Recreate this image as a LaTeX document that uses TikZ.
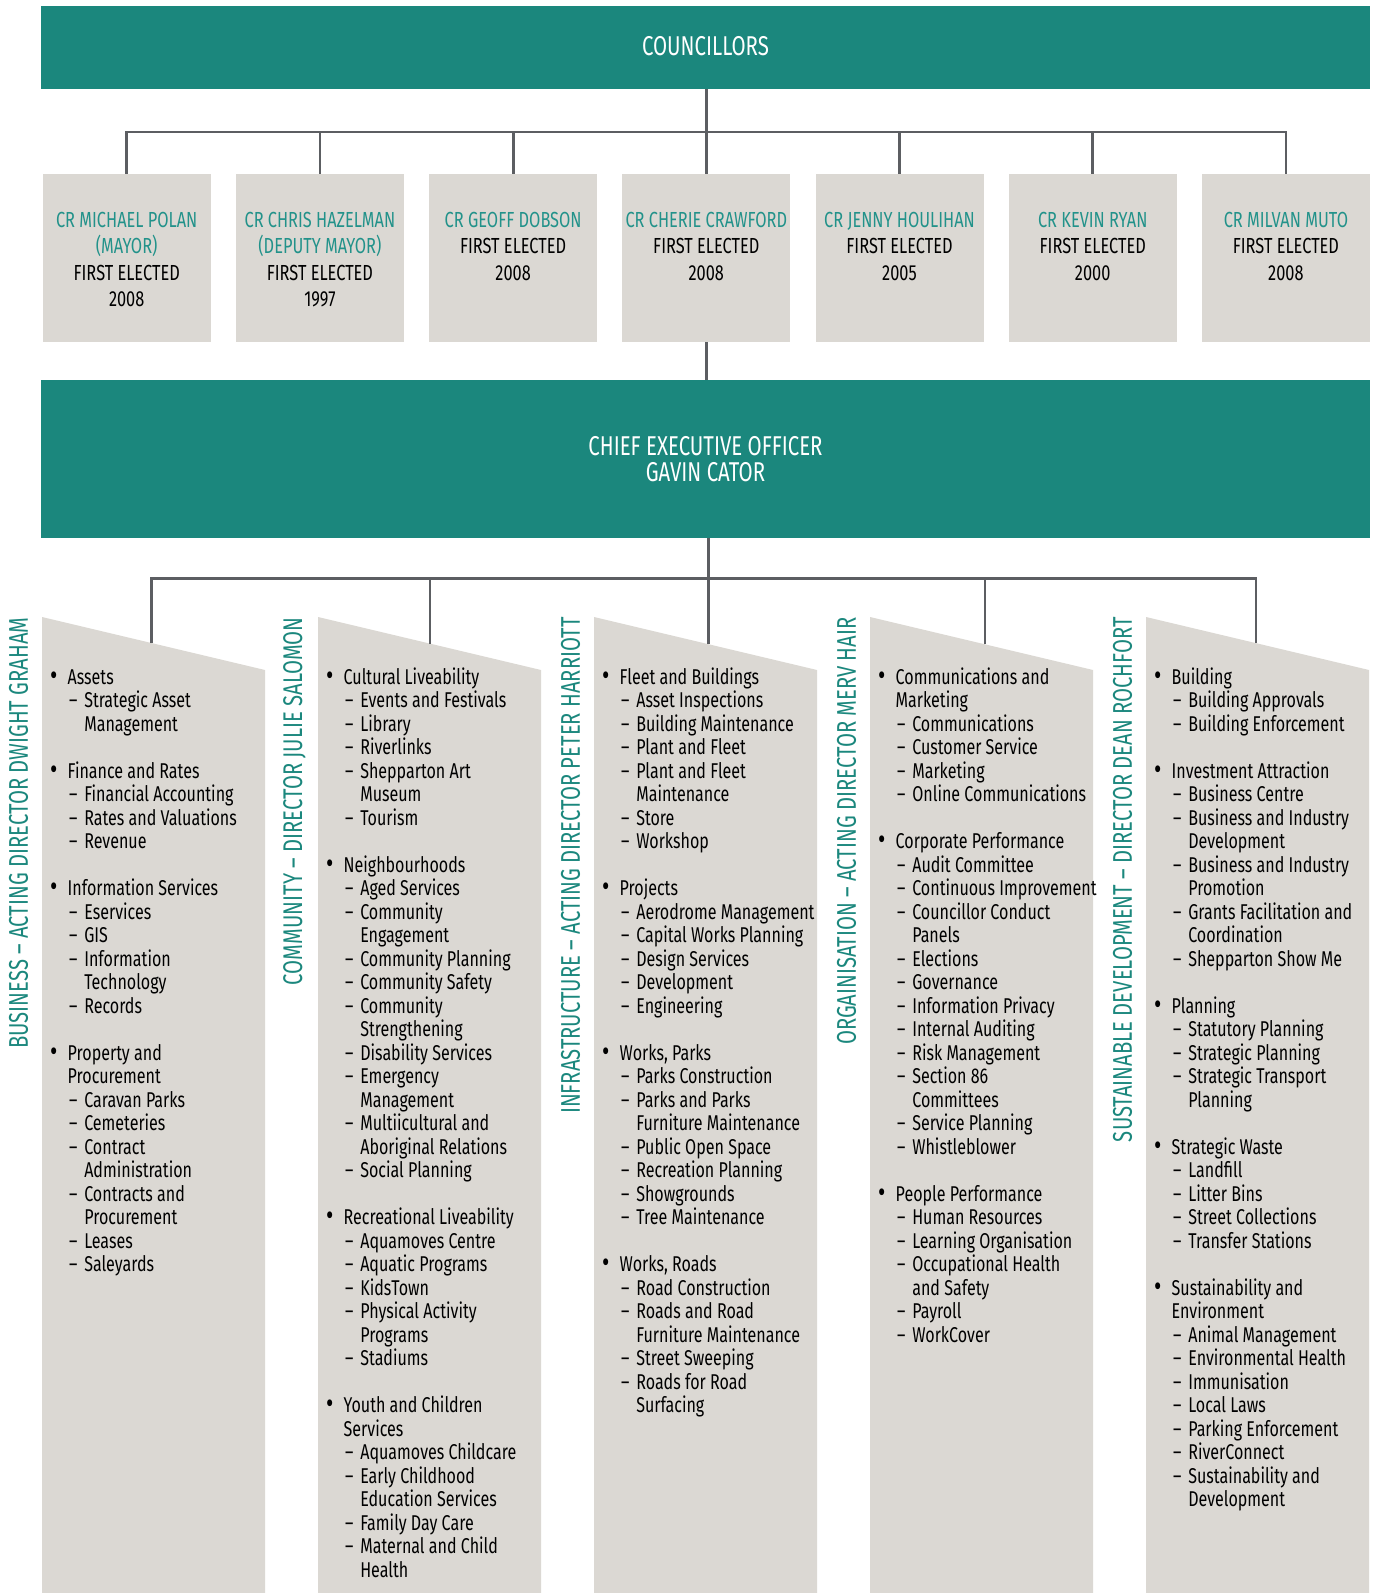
\documentclass[tikz,border=0pt]{standalone}
\usepackage{fontspec}
\setmainfont[FakeStretch=0.75]{Fira Sans}
\usetikzlibrary{positioning,calc}

\definecolor{cteal}{HTML}{1B877D}
\definecolor{nteal}{HTML}{22928A}
\definecolor{panelgrey}{HTML}{DBD8D3}
\definecolor{linegrey}{HTML}{5C5E62}

\newcommand{\itm}[1]{{\noindent\llap{\makebox[8.8pt][l]{\fontsize{15}{0}\selectfont\raisebox{-0.7pt}{\textbullet}}}#1\par}}
\newcommand{\sbi}[1]{{\leftskip=8.3pt\noindent\llap{\makebox[7.6pt][l]{–}}#1\par}}
\newcommand{\gap}{\mbox{}\par}
\newcommand{\coltext}[1]{\parbox[t]{160pt}{\raggedright\fontsize{10.7}{11.75}\selectfont#1}}
\newcommand{\crtxt}[2]{\parbox[t]{95pt}{\centering\fontsize{10.9}{13.15}\selectfont\textcolor{nteal}{#1}\\#2}}

\begin{document}
\begin{tikzpicture}[x=0.5pt, y=-0.5pt,
		band/.style={fill=cteal, inner sep=0pt, minimum width=664.5pt, minimum height=#1},
		crbox/.style={fill=panelgrey, inner sep=0pt, minimum width=84pt, minimum height=84pt},
		panel/.style={fill=panelgrey},
		conn/.style={draw=linegrey, line width=1.4pt},
		title/.style={rotate=90, anchor=east, inner sep=0pt, text=cteal, font=\fontsize{13.5}{15}\selectfont},
		head/.style={anchor=base, inner sep=0pt, text=white, align=center, font=\fontsize{13.6}{12.85}\selectfont}]
	\useasboundingbox (0,0) rectangle (1376,1593);

	% councillors
	\node[band=41.5pt] (council) at (705.5,47.5) {};
	\node[head] at ($(council.north)+(0,50)$) {COUNCILLORS};

	\node[crbox] (cr1) at (126.7,258) {};
	\node[crbox] (cr2) at (319.9,258) {};
	\node[crbox] (cr3) at (513.1,258) {};
	\node[crbox] (cr4) at (706.3,258) {};
	\node[crbox] (cr5) at (899.5,258) {};
	\node[crbox] (cr6) at (1092.7,258) {};
	\node[crbox] (cr7) at (1285.9,258) {};
	\node[anchor=base, inner sep=0pt] at ($(cr1.north)+(0,54)$) {\crtxt{CR MICHAEL POLAN\\(MAYOR)}{FIRST ELECTED\\2008}};
	\node[anchor=base, inner sep=0pt] at ($(cr2.north)+(0,54)$) {\crtxt{CR CHRIS HAZELMAN\\(DEPUTY MAYOR)}{FIRST ELECTED\\1997}};
	\node[anchor=base, inner sep=0pt] at ($(cr3.north)+(0,54)$) {\crtxt{CR GEOFF DOBSON}{FIRST ELECTED\\2008}};
	\node[anchor=base, inner sep=0pt] at ($(cr4.north)+(0,54)$) {\crtxt{CR CHERIE CRAWFORD}{FIRST ELECTED\\2008}};
	\node[anchor=base, inner sep=0pt] at ($(cr5.north)+(0,54)$) {\crtxt{CR JENNY HOULIHAN}{FIRST ELECTED\\2005}};
	\node[anchor=base, inner sep=0pt] at ($(cr6.north)+(0,54)$) {\crtxt{CR KEVIN RYAN}{FIRST ELECTED\\2000}};
	\node[anchor=base, inner sep=0pt] at ($(cr7.north)+(0,54)$) {\crtxt{CR MILVAN MUTO}{FIRST ELECTED\\2008}};

	\coordinate (cbus) at (0,132);
	\draw[conn] (cr4.north |- council.south) -- (cr4.north);
	\draw[conn] (cr1.north) -- (cr1.north |- cbus) -| (cr7.north);
	\draw[conn] (cr2.north) -- (cr2.north |- cbus);
	\draw[conn] (cr3.north) -- (cr3.north |- cbus);
	\draw[conn] (cr5.north) -- (cr5.north |- cbus);
	\draw[conn] (cr6.north) -- (cr6.north |- cbus);

	% chief executive
	\node[band=79pt] (ceo) at (705.5,459) {};
	\node[head] at ($(ceo.north)+(0,102)$) {CHIEF EXECUTIVE OFFICER\\GAVIN CATOR};
	\draw[conn] (cr4.south) -- (cr4.south |- ceo.north);

	% directorates
	\fill[panel] (42,617) -- ++(223,53) -- (265,1593) -- (42,1593) -- cycle;
	\fill[panel] (318,617) -- ++(223,53) -- (541,1593) -- (318,1593) -- cycle;
	\fill[panel] (594,617) -- ++(223,53) -- (817,1593) -- (594,1593) -- cycle;
	\fill[panel] (870,617) -- ++(223,53) -- (1093,1593) -- (870,1593) -- cycle;
	\fill[panel] (1146,617) -- ++(223,53) -- (1369,1593) -- (1146,1593) -- cycle;
	\coordinate (p1) at (151.5,643);
	\coordinate (p2) at (430,643.6);
	\coordinate (p3) at (708.3,644.2);
	\coordinate (p4) at (985,644.3);
	\coordinate (p5) at (1256,643.1);

	\coordinate (lbus) at (0,578.7);
	\draw[conn] (p3 |- ceo.south) -- (p3);
	\draw[conn] (p1) -- (p1 |- lbus) -| (p5);
	\draw[conn] (p2) -- (p2 |- lbus);
	\draw[conn] (p4) -- (p4 |- lbus);

	\node[title] at (18.5,617) {BUSINESS – ACTING DIRECTOR DWIGHT GRAHAM};
	\node[title] at (294.5,617) {COMMUNITY – DIRECTOR JULIE SALOMON};
	\node[title] at (570.5,617) {INFRASTRUCTURE – ACTING DIRECTOR PETER HARRIOTT};
	\node[title] at (846.5,617) {ORGAINISATION – ACTING DIRECTOR MERV HAIR};
	\node[title] at (1122.5,617) {SUSTAINABLE DEVELOPMENT – DIRECTOR DEAN ROCHFORT};

	\node[anchor=base west, inner sep=0pt] (t1) at (67.3,684) {\coltext{%
		\itm{Assets}
		\sbi{Strategic Asset\\Management}
		\gap
		\itm{Finance and Rates}
		\sbi{Financial Accounting}
		\sbi{Rates and Valuations}
		\sbi{Revenue}
		\gap
		\itm{Information Services}
		\sbi{Eservices}
		\sbi{GIS}
		\sbi{Information\\Technology}
		\sbi{Records}
		\gap
		\itm{Property and\\Procurement}
		\sbi{Caravan Parks}
		\sbi{Cemeteries}
		\sbi{Contract\\Administration}
		\sbi{Contracts and\\Procurement}
		\sbi{Leases}
		\sbi{Saleyards}}};

	\node[anchor=base west, inner sep=0pt] (t2) at (343.3,684) {\coltext{%
		\itm{Cultural Liveability}
		\sbi{Events and Festivals}
		\sbi{Library}
		\sbi{Riverlinks}
		\sbi{Shepparton Art\\Museum}
		\sbi{Tourism}
		\gap
		\itm{Neighbourhoods}
		\sbi{Aged Services}
		\sbi{Community\\Engagement}
		\sbi{Community Planning}
		\sbi{Community Safety}
		\sbi{Community\\Strengthening}
		\sbi{Disability Services}
		\sbi{Emergency\\Management}
		\sbi{Multiicultural and\\Aboriginal Relations}
		\sbi{Social Planning}
		\gap
		\itm{Recreational Liveability}
		\sbi{Aquamoves Centre}
		\sbi{Aquatic Programs}
		\sbi{KidsTown}
		\sbi{Physical Activity\\Programs}
		\sbi{Stadiums}
		\gap
		\itm{Youth and Children\\Services}
		\sbi{Aquamoves Childcare}
		\sbi{Early Childhood\\Education Services}
		\sbi{Family Day Care}
		\sbi{Maternal and Child\\Health}}};

	\node[anchor=base west, inner sep=0pt] (t3) at (619.3,684) {\coltext{%
		\itm{Fleet and Buildings}
		\sbi{Asset Inspections}
		\sbi{Building Maintenance}
		\sbi{Plant and Fleet}
		\sbi{Plant and Fleet\\Maintenance}
		\sbi{Store}
		\sbi{Workshop}
		\gap
		\itm{Projects}
		\sbi{Aerodrome Management}
		\sbi{Capital Works Planning}
		\sbi{Design Services}
		\sbi{Development}
		\sbi{Engineering}
		\gap
		\itm{Works, Parks}
		\sbi{Parks Construction}
		\sbi{Parks and Parks\\Furniture Maintenance}
		\sbi{Public Open Space}
		\sbi{Recreation Planning}
		\sbi{Showgrounds}
		\sbi{Tree Maintenance}
		\gap
		\itm{Works, Roads}
		\sbi{Road Construction}
		\sbi{Roads and Road\\Furniture Maintenance}
		\sbi{Street Sweeping}
		\sbi{Roads for Road\\Surfacing}}};

	\node[anchor=base west, inner sep=0pt] (t4) at (895.3,684) {\coltext{%
		\itm{Communications and\\Marketing}
		\sbi{Communications}
		\sbi{Customer Service}
		\sbi{Marketing}
		\sbi{Online Communications}
		\gap
		\itm{Corporate Performance}
		\sbi{Audit Committee}
		\sbi{Continuous Improvement}
		\sbi{Councillor Conduct\\Panels}
		\sbi{Elections}
		\sbi{Governance}
		\sbi{Information Privacy}
		\sbi{Internal Auditing}
		\sbi{Risk Management}
		\sbi{Section 86\\Committees}
		\sbi{Service Planning}
		\sbi{Whistleblower}
		\gap
		\itm{People Performance}
		\sbi{Human Resources}
		\sbi{Learning Organisation}
		\sbi{Occupational Health\\and Safety}
		\sbi{Payroll}
		\sbi{WorkCover}}};

	\node[anchor=base west, inner sep=0pt] (t5) at (1171.3,684) {\coltext{%
		\itm{Building}
		\sbi{Building Approvals}
		\sbi{Building Enforcement}
		\gap
		\itm{Investment Attraction}
		\sbi{Business Centre}
		\sbi{Business and Industry\\Development}
		\sbi{Business and Industry\\Promotion}
		\sbi{Grants Facilitation and\\Coordination}
		\sbi{Shepparton Show Me}
		\gap
		\itm{Planning}
		\sbi{Statutory Planning}
		\sbi{Strategic Planning}
		\sbi{Strategic Transport\\Planning}
		\gap
		\itm{Strategic Waste}
		\sbi{Landfill}
		\sbi{Litter Bins}
		\sbi{Street Collections}
		\sbi{Transfer Stations}
		\gap
		\itm{Sustainability and\\Environment}
		\sbi{Animal Management}
		\sbi{Environmental Health}
		\sbi{Immunisation}
		\sbi{Local Laws}
		\sbi{Parking Enforcement}
		\sbi{RiverConnect}
		\sbi{Sustainability and\\Development}}};
\end{tikzpicture}
\end{document}
